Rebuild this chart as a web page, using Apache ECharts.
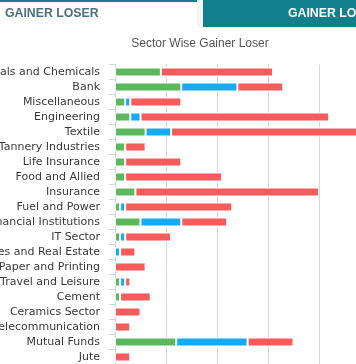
<!DOCTYPE html>
<html>
<head>
<meta charset="utf-8">
<script src="https://cdn.jsdelivr.net/npm/echarts@6/dist/echarts.min.js"></script>
<style>html,body{margin:0;padding:0;background:#fff;}#c{width:356px;height:364px;}</style>
</head>
<body>
<div id="c"></div>
<script>
const categories = ["Pharmaceuticals and Chemicals","Bank","Miscellaneous","Engineering","Textile","Tannery Industries","Life Insurance","Food and Allied","Insurance","Fuel and Power","Financial Institutions","IT Sector","Services and Real Estate","Paper and Printing","Travel and Leisure","Cement","Ceramics Sector","Telecommunication","Mutual Funds","Jute"];
const gainer    = [9,13,2,3,6,2,2,2,4,1,5,1,0,0,1,1,0,0,12,0];
const unchanged = [0,11,1,2,5,0,0,0,0,1,8,1,1,0,1,0,0,0,14,0];
const loser     = [22,9,10,37,46,4,11,19,36,21,9,9,3,6,1,6,5,3,9,3];
const xTicks = {min:0, max:60, interval:10};

const chart = echarts.init(document.getElementById('c'), null, {renderer:'canvas'});
const border = {borderColor:'#ffffff', borderWidth:1};
chart.setOption({
  animation:false,
  grid:{left:115, top:64.5, width:306, height:300, containLabel:false, outerBoundsMode:'none'},
  xAxis:{type:'value', min:xTicks.min, max:xTicks.max, interval:xTicks.interval,
    axisLine:{show:false}, axisTick:{show:false}, axisLabel:{show:true, color:'#666'},
    splitLine:{show:true, lineStyle:{color:'#d8d8d8', width:1}}},
  yAxis:{type:'category', data:categories, inverse:true,
    axisLine:{lineStyle:{color:'#ccd6eb'}},
    axisTick:{show:true, length:6, lineStyle:{color:'#ccd6eb'}},
    axisLabel:{fontFamily:'DejaVu Sans', fontSize:11, color:'#3a3a3a', margin:15},
    splitLine:{show:false}},
  series:[
    {name:'Gainer', type:'bar', stack:'s', data:gainer, barWidth:9, itemStyle:Object.assign({color:'#5cb85c'},border)},
    {name:'Unchanged', type:'bar', stack:'s', data:unchanged, barWidth:9, itemStyle:Object.assign({color:'#14aaf5'},border)},
    {name:'Loser', type:'bar', stack:'s', data:loser, barWidth:9, itemStyle:Object.assign({color:'#f75b5b'},border)}
  ],
  graphic:[
    {type:'rect', shape:{x:0,y:0,width:197,height:2}, style:{fill:'#127f8f'}},
    {type:'rect', shape:{x:197,y:0,width:6,height:27}, style:{fill:'#f4f4f4'}},
    {type:'rect', shape:{x:203,y:0,width:153,height:27}, style:{fill:'#127f8f'}},
    {type:'text', x:5, y:14, style:{text:'GAINER LOSER', fontFamily:'Liberation Sans', fontWeight:'bold', fontSize:12.3, fill:'#4b6f80', verticalAlign:'middle'}},
    {type:'text', x:288, y:14, style:{text:'GAINER LOSER', fontFamily:'Liberation Sans', fontWeight:'bold', fontSize:12.3, fill:'#ffffff', verticalAlign:'middle'}},
    {type:'text', x:200, y:44, style:{text:'Sector Wise Gainer Loser', fontFamily:'Liberation Sans', fontSize:12, fill:'#555555', align:'center', verticalAlign:'middle'}}
  ]
});
</script>
</body>
</html>
